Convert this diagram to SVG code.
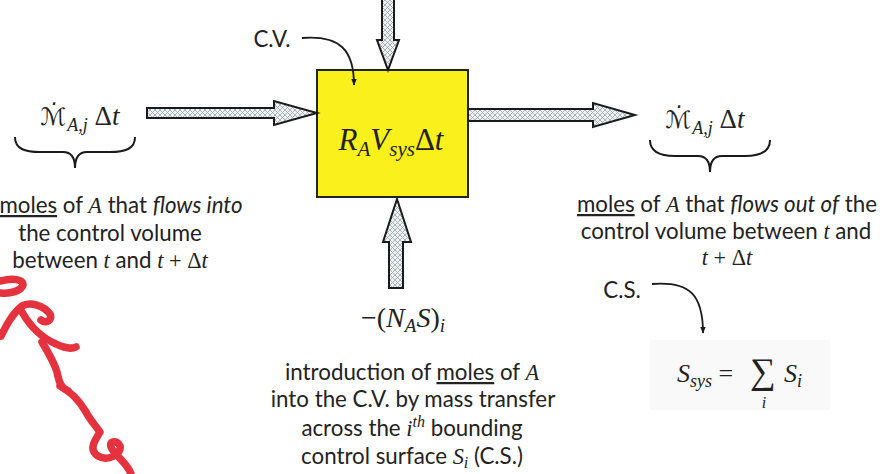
<svg xmlns="http://www.w3.org/2000/svg" width="888" height="474" viewBox="0 0 888 474">
<style>
.t{font-family:Lato,"Open Sans","Liberation Sans",sans-serif;font-size:22.3px;fill:#222;text-anchor:middle}
.m{font-family:"Liberation Serif","DejaVu Serif",serif;fill:#222}
.sc{font-family:"DejaVu Serif","DejaVu Sans",serif;font-style:italic}
.i{font-style:italic}
.u{text-decoration:underline}
.arr{fill:url(#hatch);stroke:#1a1a1a;stroke-width:2;stroke-linejoin:miter}
.brace{fill:none;stroke:#1a1a1a;stroke-width:2}
.cur{fill:none;stroke:#1a1a1a;stroke-width:1.8;marker-end:url(#ah)}
.red{fill:none;stroke:#e5323f;stroke-width:7.5;stroke-linecap:round;stroke-linejoin:round}
</style>
<defs>
<pattern id="hatch" width="5" height="5" patternUnits="userSpaceOnUse">
<rect width="5" height="5" fill="#eef2f2"/>
<path d="M0,0 L5,5 M5,0 L0,5" stroke="#9aa6a8" stroke-width="0.8"/>
</pattern>
<marker id="ah" viewBox="0 0 10 10" refX="9" refY="5" markerWidth="7" markerHeight="7" orient="auto" markerUnits="userSpaceOnUse">
<path d="M0,1 L10,5 L0,9 z" fill="#1a1a1a"/>
</marker>
</defs>
<rect width="888" height="474" fill="#fff"/>
<rect x="650" y="340" width="180" height="70" fill="#f9f9f9"/>

<g id="cv-box">
<rect x="317" y="70" width="151" height="127" fill="#faf01c" stroke="#222" stroke-width="2"/>
<text class="m" x="391" y="150" font-size="31" text-anchor="middle"><tspan class="i">R</tspan><tspan class="i" font-size="21" dy="6">A</tspan><tspan class="i" dy="-6">V</tspan><tspan class="i" font-size="21" dy="6">sys</tspan><tspan dy="-6">Δ</tspan><tspan class="i">t</tspan></text>
</g>

<g id="connectors">
<polygon class="arr" points="147,108 274,108 274,101 317,113 274,125 274,118 147,118"/>
<polygon class="arr" points="468,109 593,109 593,103 635,115 593,127 593,121 468,121"/>
<polygon class="arr" points="382,-3 394,-3 394,40 399,40 388,70 377,40 382,40"/>
<polygon class="arr" points="397,199 411,242 403,242 403,288 389,288 389,242 383,242"/>
<path class="cur" d="M302,38 C340,35 354,50 354,85"/>
<path class="cur" d="M652,284 C690,281 703,295 703,333"/>
</g>

<g id="cv-label">
<text x="272" y="47" class="t" font-size="26">C.V.</text>
</g>

<g id="inflow">
<text class="m" x="80" y="125" font-size="27" text-anchor="middle"><tspan class="sc" font-size="24">ℳ̇</tspan><tspan class="i" font-size="18" dx="1" dy="6">A,j</tspan><tspan dy="-6"> Δ</tspan><tspan class="i">t</tspan></text>
<path class="brace" d="M15,137 C15,149 25,152 40,152 L63,152 C71,152 75,157 75,168 C75,157 79,152 87,152 L110,152 C125,152 135,149 135,137"/>
<text class="t" x="121" y="213"><tspan class="u">moles</tspan> of <tspan class="m i">A</tspan> that <tspan class="i">flows into</tspan></text>
<text class="t" x="110" y="241">the control volume</text>
<text class="t" x="110" y="268">between <tspan class="m i">t</tspan> and <tspan class="m i">t</tspan><tspan class="m"> + Δ</tspan><tspan class="m i">t</tspan></text>
</g>

<g id="outflow">
<text class="m" x="705" y="128" font-size="27" text-anchor="middle"><tspan class="sc" font-size="24">ℳ̇</tspan><tspan class="i" font-size="18" dx="1" dy="6">A,j</tspan><tspan dy="-6"> Δ</tspan><tspan class="i">t</tspan></text>
<path class="brace" d="M650,140 C650,152 660,156 675,156 L698,156 C706,156 710,161 710,172 C710,161 714,156 722,156 L745,156 C760,156 770,152 770,140"/>
<text class="t" x="727" y="212"><tspan class="u">moles</tspan> of <tspan class="m i">A</tspan> that <tspan class="i">flows out of</tspan> the</text>
<text class="t" x="726" y="239">control volume between <tspan class="m i">t</tspan> and</text>
<text class="t" x="727" y="265"><tspan class="m i">t</tspan><tspan class="m"> + Δ</tspan><tspan class="m i">t</tspan></text>
</g>

<g id="transfer">
<text class="m" x="403" y="327" font-size="28" text-anchor="middle">−(<tspan class="i">N</tspan><tspan class="i" font-size="19" dy="5">A</tspan><tspan class="i" dy="-5">S</tspan>)<tspan class="i" font-size="19" dy="5">i</tspan></text>
<text class="t" x="412" y="380">introduction of <tspan class="u">moles</tspan> of <tspan class="m i">A</tspan></text>
<text class="t" x="413" y="407">into the C.V. by mass transfer</text>
<text class="t" x="412" y="436">across the <tspan class="m i">i</tspan><tspan class="m i" font-size="16" dy="-9">th</tspan><tspan dy="9"> bounding</tspan></text>
<text class="t" x="412" y="464">control surface <tspan class="m i">S</tspan><tspan class="m i" font-size="16" dy="4">i</tspan><tspan dy="-4"> (C.S.)</tspan></text>
</g>

<g id="cs-label">
<text x="622" y="298" class="t" font-size="26.5">C.S.</text>
</g>

<g id="surface-sum">
<text class="m" x="677" y="382" font-size="26"><tspan class="i">S</tspan><tspan class="i" font-size="18" dy="5">sys</tspan><tspan dy="-5"> = </tspan></text>
<text class="m" x="750" y="383" font-size="36">∑</text>
<text class="m i" x="784" y="382" font-size="26">S<tspan font-size="18" dy="5">i</tspan></text>
<text class="m i" x="764" y="408" font-size="16" text-anchor="middle">i</text>
</g>

<g id="scribble">
<path class="red" d="M0,281 C12,278 24,279 23,285 C21,291 10,294 1,293"/>
<path class="red" d="M1,336 C6,326 12,314 22,306 C30,301 44,306 50,314 C53,320 46,324 41,320"/>
<path class="red" d="M22,312 C30,326 42,338 56,344 C64,348 72,349 76,347"/>
<path class="red" d="M42,342 C48,352 54,362 57,372 C59,382 61,388 68,391"/>
<path class="red" d="M60,386 C72,392 80,402 86,412 C90,420 96,426 100,432 C95,440 88,450 98,456 C108,462 122,454 120,446 C117,439 107,441 112,449 C118,458 128,464 131,474"/>
</g>
</svg>
